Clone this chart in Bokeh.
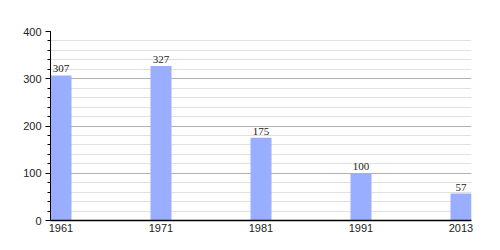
from bokeh.plotting import figure
from bokeh.models import ColumnDataSource, FixedTicker, Range1d, LabelSet
from bokeh.embed import file_html
from bokeh.resources import INLINE

years = ["1961", "1971", "1981", "1991", "2013"]
values = [307, 327, 175, 100, 57]
y_ticks = [0, 100, 200, 300, 400]

bar_w = 0.21
idx = list(range(len(years)))
centers = [i + bar_w / 2 for i in idx]

src = ColumnDataSource(dict(x=centers, top=values, lab=[str(v) for v in values]))

p = figure(width=500, height=250, output_backend="svg", toolbar_location=None,
           x_range=Range1d(0, len(years) - 1 + bar_w), y_range=Range1d(0, 400),
           min_border_left=50, min_border_right=29, min_border_top=31, min_border_bottom=30)
p.outline_line_color = None
p.background_fill_color = "white"

p.vbar(x="x", top="top", width=bar_w, bottom=0, source=src, color="#99aeff", line_color=None)

labels = LabelSet(x="x", y="top", text="lab", source=src, text_align="center",
                  text_baseline="bottom", y_offset=3, text_font_size="11px",
                  text_font="Liberation Sans", text_color="#222222")
p.add_layout(labels)

p.yaxis.ticker = FixedTicker(ticks=y_ticks, minor_ticks=list(range(0, 401, 20)))
p.ygrid.ticker = p.yaxis.ticker
p.ygrid.grid_line_color = "#b0b0b0"
p.ygrid.minor_grid_line_color = "#e0e0e0"
p.xgrid.grid_line_color = None

p.yaxis.axis_line_color = "black"
p.yaxis.major_tick_line_color = "black"
p.yaxis.minor_tick_line_color = "black"
p.yaxis.major_tick_in = 0
p.yaxis.major_tick_out = 5
p.yaxis.minor_tick_in = 0
p.yaxis.minor_tick_out = 3
p.yaxis.major_label_text_font = "Liberation Sans"
p.yaxis.major_label_text_font_size = "11px"
p.yaxis.major_label_text_color = "#222222"
p.yaxis.major_label_standoff = 4

p.xaxis.ticker = FixedTicker(ticks=centers)
p.xaxis.major_label_overrides = {c: y for c, y in zip(centers, years)}
p.xaxis.axis_line_color = "black"
p.xaxis.axis_line_width = 1.5
p.xaxis.major_tick_line_color = None
p.xaxis.minor_tick_line_color = None
p.xaxis.major_tick_out = 0
p.xaxis.major_tick_in = 0
p.xaxis.major_label_text_font = "Liberation Sans"
p.xaxis.major_label_text_font_size = "11px"
p.xaxis.major_label_text_color = "#222222"
p.xaxis.major_label_standoff = 3

open("out.html", "w").write(file_html(p, INLINE))
